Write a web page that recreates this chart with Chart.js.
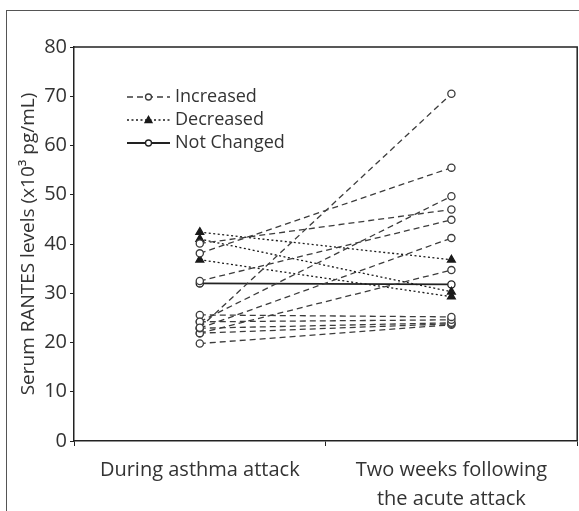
<!DOCTYPE html>
<html>
<head>
<meta charset="utf-8">
<title>Serum RANTES levels</title>
<script src="https://cdn.jsdelivr.net/npm/chart.js@4.4.1/dist/chart.umd.min.js"></script>
<style>
    html, body { margin: 0; padding: 0; background: #fff; overflow: hidden; }
    #frame {
        position: absolute; left: 6px; top: 10px;
        width: 700px; height: 700px;
        border: 1.5px solid #555;
    }
    #rantes-chart { position: absolute; left: 0; top: 0; }
</style>
</head>
<body>
<div id="frame"></div>
<canvas id="rantes-chart" width="583" height="511"></canvas>
<script>
// Categories along the x axis
const timepoints = ['During asthma attack', ['Two weeks following', 'the acute attack']];

// RANTES levels (x10^3 pg/mL), one pair per patient
const increasedBefore = [23.0, 38.1, 40.1, 32.5, 24.2, 22.9, 21.9, 25.6, 24.2, 22.9, 21.9, 19.8];
const increasedAfter  = [70.5, 55.5, 47.0, 44.9, 49.7, 41.2, 34.7, 25.2, 24.6, 24.0, 23.8, 23.6];

const decreasedBefore = [42.4, 41.0, 36.8];
const decreasedAfter  = [36.8, 30.3, 29.3];

const unchangedBefore = [32.0];
const unchangedAfter  = [31.8];

const yTicks = [0, 10, 20, 30, 40, 50, 60, 70, 80];

const legendLabels = ['Increased', 'Decreased', 'Not Changed'];

const FONT = '"Open Sans", "Noto Sans", sans-serif';
const TEXT = '#333';
const AXIS = '#222';

const groupStyle = {
    increased: { color: '#3c3c3c', dash: [6, 4], width: 1.3, point: 'circle', radius: 3.6, fill: '#fff' },
    decreased: { color: '#1a1a1a', dash: [2, 2.5], width: 1.3, point: 'triangle', radius: 4.5, fill: '#1a1a1a' },
    unchanged: { color: '#222', dash: [], width: 1.8, point: 'circle', radius: 3.6, fill: '#fff' }
};

function buildDatasets(before, after, style) {
    return before.map((b, i) => ({
        data: [b, after[i]],
        borderColor: style.color,
        borderDash: style.dash,
        borderWidth: style.width,
        pointStyle: style.point,
        pointRadius: style.radius,
        pointBackgroundColor: style.fill,
        pointBorderColor: style.color,
        pointBorderWidth: 1.3,
        fill: false,
        tension: 0
    }));
}

const datasets = [
    ...buildDatasets(increasedBefore, increasedAfter, groupStyle.increased),
    ...buildDatasets(decreasedBefore, decreasedAfter, groupStyle.decreased),
    ...buildDatasets(unchangedBefore, unchangedAfter, groupStyle.unchanged)
];

function drawMarker(ctx, style, x, y) {
    ctx.save();
    ctx.setLineDash([]);
    ctx.lineWidth = 1.3;
    ctx.strokeStyle = style.color;
    ctx.fillStyle = style.fill;
    ctx.beginPath();
    if (style.point === 'triangle') {
        const r = style.radius - 0.8;
        ctx.moveTo(x, y - r);
        ctx.lineTo(x + r * 0.95, y + r * 0.7);
        ctx.lineTo(x - r * 0.95, y + r * 0.7);
        ctx.closePath();
    } else {
        ctx.arc(x, y, style.radius - 0.6, 0, Math.PI * 2);
    }
    ctx.fill();
    ctx.stroke();
    ctx.restore();
}

// top and right border of the plot box
const plotFrame = {
    id: 'plotFrame',
    afterDraw(chart) {
        const { ctx, chartArea: a } = chart;
        ctx.save();
        ctx.strokeStyle = AXIS;
        ctx.lineWidth = 1.5;
        ctx.beginPath();
        ctx.moveTo(a.left, a.top);
        ctx.lineTo(a.right, a.top);
        ctx.lineTo(a.right, a.bottom);
        ctx.stroke();
        ctx.restore();
    }
};

// legend drawn inside the plot, upper left
const innerLegend = {
    id: 'innerLegend',
    afterDraw(chart) {
        const { ctx, chartArea: a } = chart;
        const styles = [groupStyle.increased, groupStyle.decreased, groupStyle.unchanged];
        const x0 = a.left + 53;
        const x1 = a.left + 96;
        ctx.save();
        legendLabels.forEach((label, i) => {
            const s = styles[i];
            const y = a.top + 50 + i * 23;
            ctx.strokeStyle = s.color;
            ctx.lineWidth = i === 2 ? 2 : s.width;
            ctx.setLineDash(s.dash);
            ctx.beginPath();
            ctx.moveTo(x0, y);
            ctx.lineTo(x1, y);
            ctx.stroke();
            drawMarker(ctx, s, (x0 + x1) / 2, y);
            ctx.setLineDash([]);
            ctx.fillStyle = TEXT;
            ctx.font = '18px ' + FONT;
            ctx.textAlign = 'left';
            ctx.textBaseline = 'middle';
            ctx.fillText(label, x1 + 5, y);
        });
        ctx.restore();
    }
};

const chart = new Chart(document.getElementById('rantes-chart').getContext('2d'), {
    type: 'line',
    data: { labels: timepoints, datasets: datasets },
    options: {
        responsive: false,
        animation: false,
        devicePixelRatio: 1,
        layout: { padding: { top: 47, right: 0, bottom: 0, left: 0 } },
        plugins: {
            legend: { display: false },
            tooltip: { enabled: false }
        },
        scales: {
            x: {
                type: 'category',
                offset: true,
                afterFit: (scale) => { scale.height = 70; },
                border: { display: true, color: AXIS, width: 1.5 },
                grid: { display: true, offset: true, drawOnChartArea: false, drawTicks: true, tickLength: 5, color: AXIS, lineWidth: 1 },
                ticks: {
                    color: TEXT,
                    font: { family: FONT, size: 20, lineHeight: 1.45 },
                    padding: 10,
                    maxRotation: 0,
                    autoSkip: false
                }
            },
            y: {
                min: 0,
                max: 80,
                afterFit: (scale) => { scale.width = 74; },
                afterBuildTicks: (scale) => { scale.ticks = yTicks.map(v => ({ value: v })); },
                border: { display: true, color: AXIS, width: 1.5 },
                grid: { display: true, drawOnChartArea: false, drawTicks: true, tickLength: 4, color: AXIS, lineWidth: 1 },
                ticks: {
                    color: TEXT,
                    font: { family: FONT, size: 20 },
                    padding: 3
                },
                title: {
                    display: true,
                    text: 'Serum RANTES levels (x10³ pg/mL)',
                    color: TEXT,
                    font: { family: FONT, size: 19 },
                    padding: { top: 17, bottom: 0 }
                }
            }
        }
    },
    plugins: [plotFrame, innerLegend]
});
</script>
</body>
</html>
